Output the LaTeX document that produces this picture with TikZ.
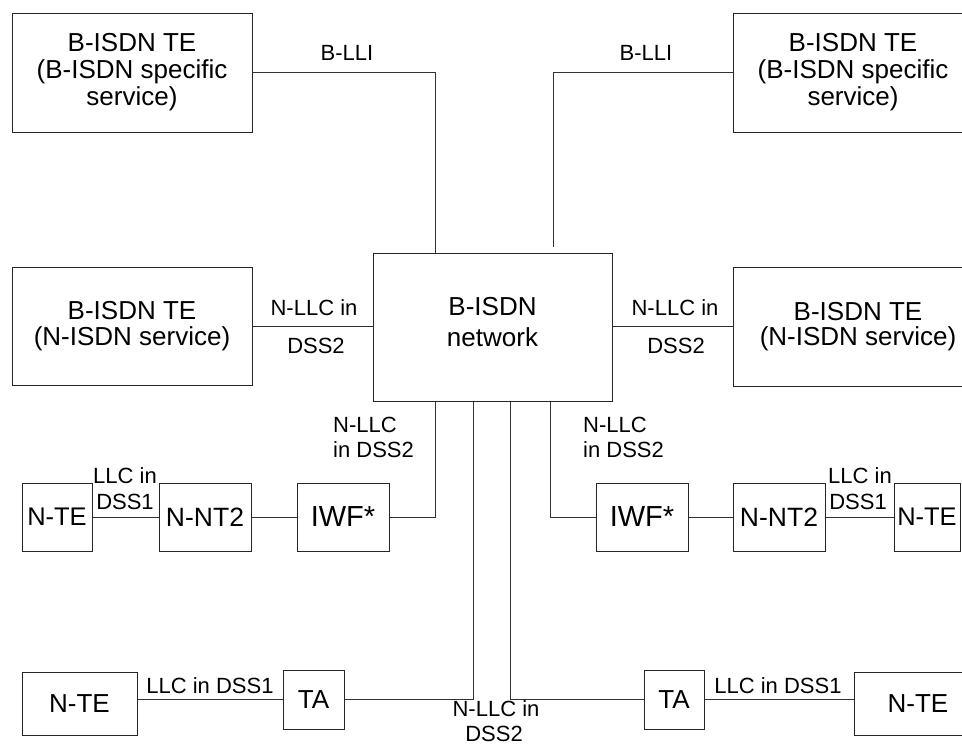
\documentclass[tikz,border=0pt]{standalone}
\usepackage{fontspec}
\setmainfont{Liberation Sans}
\usetikzlibrary{calc}
\begin{document}
\begin{tikzpicture}[x=1pt,y=-1pt,
  box/.style={draw=black!85, line width=1pt, inner sep=0pt, align=center, font=\fontsize{26}{27}\selectfont},
  lbl/.style={inner sep=0pt, font=\fontsize{22}{26}\selectfont},
  wire/.style={draw=black!80, line width=1pt}]
\useasboundingbox (0,0) rectangle (962,744);
% large boxes
\node[box, minimum width=240pt, minimum height=119pt] (tl) at (132,72.5) {B-ISDN TE\\(B-ISDN specific\\service)};
\node[box, minimum width=240pt, minimum height=119pt] (tr) at (853,72.5) {B-ISDN TE\\(B-ISDN specific\\service)};
\node[box, minimum width=240pt, minimum height=118pt, font=\fontsize{26}{25.5}\selectfont] (ml) at (132,326) {B-ISDN TE\\(N-ISDN service)};
\node[box, minimum width=250pt, minimum height=119pt, font=\fontsize{26}{25.5}\selectfont] (mr) at (858,326.5) {B-ISDN TE\\(N-ISDN service)};
\node[box, minimum width=239pt, minimum height=148pt] (net) at (492.5,327) {};
\node[inner sep=0pt, align=center, font=\fontsize{26}{31}\selectfont] (nettext) at (492.5,322) {B-ISDN\\network};
% IWF rows
\node[box, minimum width=70pt, minimum height=68pt, font=\fontsize{25.5}{27}\selectfont] (nteA) at (57,517) {N-TE};
\node[box, minimum width=92pt, minimum height=68pt, font=\fontsize{26.5}{27}\selectfont] (nt2A) at (205,517) {N-NT2};
\node[box, minimum width=92pt, minimum height=68pt, font=\fontsize{29}{30}\selectfont] (iwfA) at (343,517) {IWF*};
\node[box, minimum width=92pt, minimum height=68pt, font=\fontsize{29}{30}\selectfont] (iwfB) at (642,517) {IWF*};
\node[box, minimum width=92pt, minimum height=68pt, font=\fontsize{26.5}{27}\selectfont] (nt2B) at (779,517) {N-NT2};
\node[box, minimum width=66pt, minimum height=68pt, font=\fontsize{25.5}{27}\selectfont] (nteB) at (927,517) {N-TE};
% TA rows
\node[box, minimum width=115pt, minimum height=63pt] (nteC) at (79.5,703.5) {N-TE};
\node[box, minimum width=61pt, minimum height=59pt] (taA) at (313.5,699.5) {TA};
\node[box, minimum width=60pt, minimum height=59pt] (taB) at (674,699.5) {TA};
\node[box, minimum width=128pt, minimum height=63pt] (nteD) at (918,703.5) {N-TE};
% connectors
\draw[wire] (tl.east) -| ([xshift=-57.5pt]net.north);
\draw[wire, shorten >=6pt] (tr.west) -| ([xshift=60.5pt]net.north);
\draw[wire] (ml.east) -- (ml.east -| net.west);
\draw[wire] (mr.west) -- (mr.west -| net.east);
\draw[wire] ([xshift=-57.5pt]net.south) |- (iwfA.east);
\draw[wire] ([xshift=-19.5pt]net.south) |- (taA.east);
\draw[wire] ([xshift=17.5pt]net.south) |- (taB.west);
\draw[wire] ([xshift=57.5pt]net.south) |- (iwfB.west);
\draw[wire] (nteA) -- (nt2A);
\draw[wire] (nt2A) -- (iwfA);
\draw[wire] (iwfB) -- (nt2B);
\draw[wire] (nt2B) -- (nteB);
\draw[wire] (taA.west) -- (taA.west -| nteC.east);
\draw[wire] (taB.east) -- (taB.east -| nteD.west);
% labels
\node[lbl, anchor=base] (blliA) at (347,60) {B-LLI};
\node[lbl, anchor=base] (blliB) at (646,60) {B-LLI};
\node[lbl, anchor=base] (llcA1) at (314,315) {N-LLC in};
\node[lbl, anchor=base] (llcA2) at (316,353) {DSS2};
\node[lbl, anchor=base] (llcB1) at (675,315) {N-LLC in};
\node[lbl, anchor=base] (llcB2) at (676,353) {DSS2};
\node[lbl, anchor=base west] (dssL1) at (333,432) {N-LLC};
\node[lbl, anchor=base west] (dssL2) at (333,457) {in DSS2};
\node[lbl, anchor=base west] (dssR1) at (583,432) {N-LLC};
\node[lbl, anchor=base west] (dssR2) at (583,457) {in DSS2};
\node[lbl, anchor=base] (d1L1) at (125,483) {LLC in};
\node[lbl, anchor=base] (d1L2) at (125,509) {DSS1};
\node[lbl, anchor=base] (d1R1) at (860,483) {LLC in};
\node[lbl, anchor=base] (d1R2) at (858,509) {DSS1};
\node[lbl, anchor=base] (taLlbl) at (210,693) {LLC in DSS1};
\node[lbl, anchor=base] (taRlbl) at (778,693) {LLC in DSS1};
\node[lbl, anchor=base] (botl1) at (496,716) {N-LLC in};
\node[lbl, anchor=base] (botl2) at (494,741) {DSS2};
\end{tikzpicture}
\end{document}
